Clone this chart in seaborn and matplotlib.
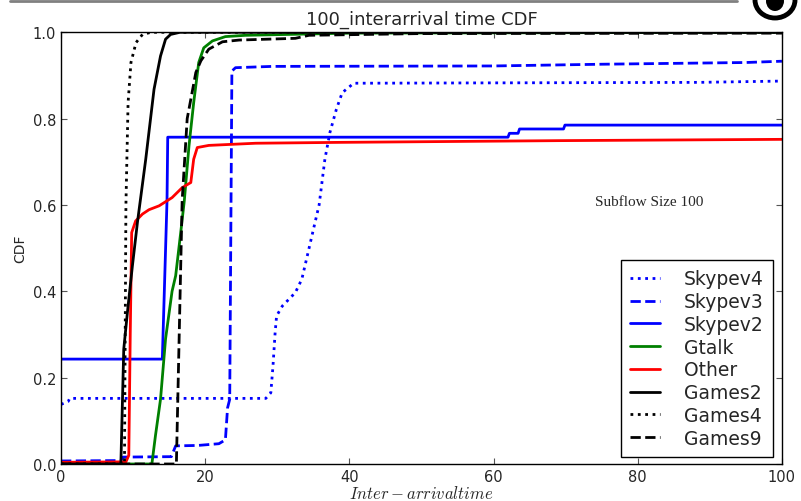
import matplotlib
matplotlib.use('Agg')
import matplotlib.pyplot as plt
from matplotlib.lines import Line2D
from matplotlib.patches import Ellipse
import seaborn as sns
import pandas as pd

# CDF curves
skypev4_x = [0, 1.0, 1.2, 28.4, 29.1, 29.4, 29.7, 29.9, 30.7, 32.5, 33.4, 34.1, 35.1, 35.8, 36.6, 37.3, 38.2, 39.0, 40.6, 88.5, 100]
skypev4_y = [0.138, 0.145, 0.152, 0.152, 0.165, 0.227, 0.305, 0.343, 0.366, 0.397, 0.428, 0.478, 0.55, 0.60, 0.706, 0.768, 0.822, 0.860, 0.882, 0.884, 0.887]

skypev3_x = [0, 8.3, 8.6, 15.3, 15.9, 19.0, 21.9, 22.8, 23.1, 23.4, 23.7, 24.2, 29.3, 60, 75, 95, 100]
skypev3_y = [0.007, 0.008, 0.016, 0.017, 0.042, 0.043, 0.047, 0.056, 0.13, 0.15, 0.91, 0.918, 0.921, 0.922, 0.926, 0.93, 0.933]

skypev2_x = [0, 14.05, 14.7, 14.8, 62.0, 62.2, 63.4, 63.6, 69.7, 69.9, 100]
skypev2_y = [0.243, 0.243, 0.61, 0.757, 0.757, 0.766, 0.766, 0.776, 0.776, 0.785, 0.785]

gtalk_x = [0, 12.6, 13.1, 13.8, 14.5, 15.4, 15.9, 16.6, 17.1, 17.75, 18.4, 19.1, 19.8, 21.0, 22.8, 25.6, 40, 100]
gtalk_y = [0, 0, 0.066, 0.15, 0.29, 0.40, 0.436, 0.536, 0.61, 0.737, 0.837, 0.93, 0.964, 0.98, 0.99, 0.993, 0.998, 1.0]

other_x = [0, 9.0, 9.4, 9.6, 9.8, 10.35, 11.3, 12.2, 13.6, 15.4, 16.8, 18.0, 18.4, 18.9, 20.5, 27, 38.6, 69, 100]
other_y = [0.004, 0.005, 0.02, 0.3, 0.536, 0.563, 0.579, 0.589, 0.598, 0.617, 0.640, 0.652, 0.706, 0.733, 0.738, 0.743, 0.745, 0.749, 0.752]

games2_x = [0, 8.3, 8.7, 9.2, 9.9, 10.6, 11.75, 12.9, 13.8, 14.5, 15.2, 16.5, 100]
games2_y = [0, 0, 0.266, 0.35, 0.459, 0.56, 0.706, 0.868, 0.945, 0.984, 0.995, 1.0, 1.0]

games4_x = [0, 8.8, 9.0, 9.3, 9.7, 10.4, 11.3, 12.5, 100]
games4_y = [0, 0, 0.6, 0.837, 0.93, 0.976, 0.995, 1.0, 1.0]

games9_x = [0, 16.0, 16.8, 17.5, 18.7, 19.4, 20.5, 22.4, 24.7, 32.5, 34.4, 50, 100]
games9_y = [0, 0, 0.61, 0.80, 0.907, 0.934, 0.961, 0.978, 0.982, 0.986, 0.993, 0.997, 0.998]

series = [
    ('Skypev4', skypev4_x, skypev4_y, 'blue', ':'),
    ('Skypev3', skypev3_x, skypev3_y, 'blue', '--'),
    ('Skypev2', skypev2_x, skypev2_y, 'blue', '-'),
    ('Gtalk', gtalk_x, gtalk_y, 'green', '-'),
    ('Other', other_x, other_y, 'red', '-'),
    ('Games2', games2_x, games2_y, 'black', '-'),
    ('Games4', games4_x, games4_y, 'black', ':'),
    ('Games9', games9_x, games9_y, 'black', '--'),
]

sns.set_style('ticks')
plt.rcParams['font.family'] = ['DejaVu Sans']
plt.rcParams['mathtext.fontset'] = 'cm'

fig = plt.figure(figsize=(8.01, 5.02), dpi=100)
ax = fig.add_axes([0.0762, 0.0737, 0.9, 0.8600])

for nombre, xs, ys, color, estilo in series:
    df = pd.DataFrame({'x': xs, 'y': ys})
    sns.lineplot(data=df, x='x', y='y', ax=ax, color=color, linestyle=estilo,
                 linewidth=2, estimator=None, sort=False, label=nombre)

ax.set_xlim(0, 100)
ax.set_ylim(0, 1.0)
ax.set_xticks([0, 20, 40, 60, 80, 100])
ax.set_yticks([0.0, 0.2, 0.4, 0.6, 0.8, 1.0])
ax.set_yticklabels(['0.0', '0.2', '0.4', '0.6', '0.8', '1.0'])
ax.tick_params(direction='in', top=True, right=True, labelsize=10.5, length=4, color='#555555')
for s in ax.spines.values():
    s.set_color('black')
    s.set_linewidth(1)

ax.set_title('100_interarrival time CDF', fontsize=13, pad=6)
ax.set_xlabel('$Inter-arrival time$', fontsize=12, labelpad=0)
ax.set_ylabel('CDF', fontsize=10, labelpad=4)

ax.text(74, 0.60, 'Subflow Size 100', family='Liberation Serif', fontsize=11)

leg = ax.legend(loc='lower right', bbox_to_anchor=(0.9875, 0.016), borderaxespad=0,
                fontsize=13.5, fancybox=False, framealpha=1, edgecolor='black',
                handlelength=1.6, handletextpad=1.25, borderpad=0.5, labelspacing=0.2)
leg.get_frame().set_linewidth(1)

# page leftovers: grey rule and part of a logo at the top
fig.add_artist(Line2D([0.0125, 0.92], [0.996, 0.996], color='gray', linewidth=2))
fig.add_artist(Ellipse((775 / 801, 1 - 1 / 502), 40 / 801, 36 / 502,
                       facecolor='white', edgecolor='black', linewidth=3.5))
fig.add_artist(Ellipse((775 / 801, 1 - 2 / 502), 18 / 801, 20 / 502,
                       facecolor='black', edgecolor='none'))

fig.savefig('out.png', dpi=100)
